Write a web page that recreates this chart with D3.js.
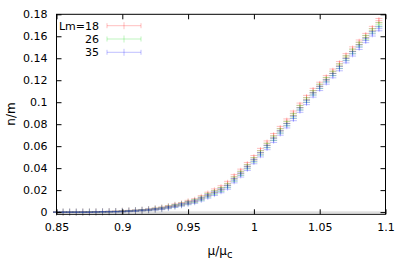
<!DOCTYPE html>
<html><head><meta charset="utf-8">
<script src="https://cdn.jsdelivr.net/npm/d3@7/dist/d3.min.js"></script>
<style>body{margin:0;background:#fff}svg{display:block}text{font-family:"DejaVu Sans",sans-serif;font-size:11px;fill:#000}</style>
</head><body><svg id="c" width="407" height="271"></svg>
<script>
const mu = [0.85,0.855,0.86,0.865,0.87,0.875,0.88,0.885,0.89,0.895,0.90,0.905,0.91,0.915,0.92,0.925,0.93,0.935,0.94,0.945,0.95,0.955,0.96,0.965,0.97,0.975,0.98,0.985,0.99,0.995,1.0,1.005,1.01,1.015,1.02,1.025,1.03,1.035,1.04,1.045,1.05,1.055,1.06,1.065,1.07,1.075,1.08,1.085,1.09,1.095];
const lm18 = [0,0,0,0,0.0001,0.0001,0.0002,0.0003,0.0004,0.0006,0.0008,0.0011,0.0014,0.0018,0.0023,0.0030,0.0038,0.0050,0.0063,0.0075,0.0094,0.0108,0.0135,0.0165,0.0194,0.0222,0.0262,0.0322,0.0372,0.0432,0.0495,0.0560,0.0628,0.0695,0.0760,0.0828,0.0900,0.0972,0.1042,0.1106,0.1162,0.1222,0.1282,0.1350,0.1422,0.1484,0.1546,0.1606,0.1670,0.1742];
const lm26 = [0,0,0,0,0,0.0001,0.0001,0.0002,0.0003,0.0005,0.0007,0.0010,0.0013,0.0017,0.0021,0.0028,0.0035,0.0046,0.0058,0.0070,0.0085,0.0100,0.0123,0.0152,0.0178,0.0205,0.0240,0.0300,0.0352,0.0412,0.0475,0.0538,0.0605,0.0672,0.0738,0.0805,0.0876,0.0950,0.1020,0.1085,0.1145,0.1205,0.1262,0.1328,0.1402,0.1462,0.1525,0.1588,0.1648,0.1705];
const lm35 = [0,0,0,0,0,0,0.0001,0.0002,0.0003,0.0004,0.0006,0.0009,0.0012,0.0016,0.0020,0.0025,0.0031,0.0041,0.0053,0.0066,0.0080,0.0094,0.0116,0.0143,0.0168,0.0194,0.0226,0.0285,0.0338,0.0398,0.0460,0.0522,0.0588,0.0654,0.0720,0.0786,0.0852,0.0928,0.0998,0.1066,0.1126,0.1184,0.1242,0.1306,0.1378,0.1440,0.1500,0.1562,0.1622,0.1670];
const errs = [0.0003,0.0003,0.0003,0.0003,0.0003,0.0003,0.0003,0.0003,0.0004,0.0004,0.0005,0.0005,0.0006,0.0006,0.0007,0.0008,0.0009,0.0010,0.0011,0.0012,0.0013,0.0014,0.0015,0.0016,0.0017,0.0018,0.0018,0.0019,0.0019,0.0019,0.0020,0.0020,0.0020,0.0020,0.0020,0.0020,0.0020,0.0020,0.0020,0.0020,0.0020,0.0020,0.0020,0.0020,0.0020,0.0020,0.0020,0.0020,0.0020,0.0020];
const seriesNames = ["Lm=18","26","35"];
const seriesColors = ["rgba(255,0,0,0.25)","rgba(0,220,0,0.25)","rgba(0,0,255,0.25)"];
const xTicks = [0.85,0.9,0.95,1,1.05,1.1];
const yTicks = [0,0.02,0.04,0.06,0.08,0.1,0.12,0.14,0.16,0.18];

const svg = d3.select("#c");
const L=56.5,R=385.5,T=14.3,B=214.3;
const x = d3.scaleLinear().domain([0.85,1.1]).range([L,R]);
const y = d3.scaleLinear().domain([-0.002,0.18]).range([B,T]);

svg.append("line").attr("x1",L).attr("x2",R).attr("y1",y(0)).attr("y2",y(0)).attr("stroke","#c8c8c8").attr("stroke-width",1);

const data = [lm18,lm26,lm35];
const s=3.5;
data.forEach((vals,si)=>{
  const g = svg.append("g").attr("stroke",seriesColors[si]).attr("stroke-width",1).attr("fill","none");
  vals.forEach((v,i)=>{
    const px=x(mu[i]), py=y(v), y1=y(v-errs[i]), y2=y(v+errs[i]);
    let d=`M${px},${y1}V${y2}M${px-s},${y1}H${px+s}M${px-s},${y2}H${px+s}`;
    d+=`M${px-s},${py}H${px+s}M${px},${py-s}V${py+s}`;
    g.append("path").attr("d",d);
  });
});

const axB = d3.axisBottom(x).tickValues(xTicks).tickSize(-5).tickPadding(9).tickFormat(d=>d3.format("")(d));
const axT = d3.axisTop(x).tickValues(xTicks).tickSize(-5).tickFormat("");
const axLf = d3.axisLeft(y).tickValues(yTicks).tickSize(-5).tickPadding(9).tickFormat(d=>d3.format("")(+d.toFixed(2)));
const axRt = d3.axisRight(y).tickValues(yTicks).tickSize(-5).tickFormat("");
function style(g){g.select(".domain").remove();g.selectAll("line").attr("stroke","#000");g.selectAll("text").style("font-family","'DejaVu Sans',sans-serif").style("font-size","11px").attr("fill","#000");}
svg.append("g").attr("transform",`translate(0,${B})`).call(axB).call(style);
svg.append("g").attr("transform",`translate(0,${T})`).call(axT).call(style);
svg.append("g").attr("transform",`translate(${L},0)`).call(axLf).call(style);
svg.append("g").attr("transform",`translate(${R},0)`).call(axRt).call(style);
svg.append("rect").attr("x",L).attr("y",T).attr("width",R-L).attr("height",B-T).attr("fill","none").attr("stroke","#000").attr("stroke-width",1);

const xl = svg.append("text").attr("x",220).attr("y",255).attr("text-anchor","middle").style("font-size","12px");
xl.append("tspan").text("μ/μ");
xl.append("tspan").attr("dy",3).style("font-size","10px").text("c");
svg.append("text").attr("transform","translate(15,114) rotate(-90)").attr("text-anchor","middle").style("font-size","12px").text("n/m");

seriesNames.forEach((n,i)=>{
  const cy=25.7+i*13.3;
  svg.append("text").attr("x",99).attr("y",cy+4).attr("text-anchor","end").text(n);
  const g=svg.append("g").attr("stroke",seriesColors[i]).attr("fill","none");
  g.append("path").attr("d",`M107,${cy}H141M107,${cy-2.5}V${cy+2.5}M141,${cy-2.5}V${cy+2.5}M${124},${cy-s}V${cy+s}`);
});
</script></body></html>
